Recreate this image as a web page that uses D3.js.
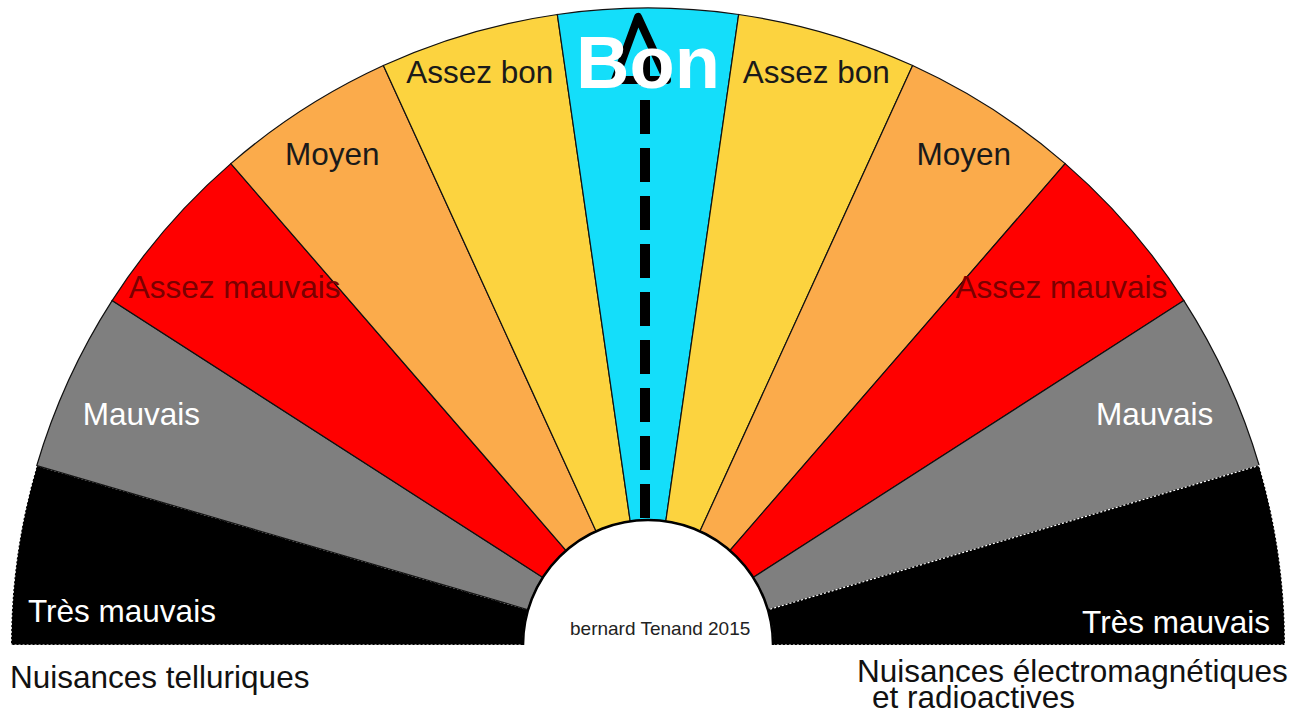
<!DOCTYPE html>
<html>
<head>
<meta charset="utf-8">
<script src="https://cdn.jsdelivr.net/npm/d3@7"></script>
<style>
  body { margin: 0; background: #fff; }
  text { font-family: "Liberation Sans", Arial, sans-serif; }
</style>
</head>
<body>
<div id="chart"></div>
<script>
const width = 1297
const height = 720

// the 11 levels of the gauge, left to right
const levels = ["Très mauvais", "Mauvais", "Assez mauvais", "Moyen", "Assez bon", "Bon",
                "Assez bon", "Moyen", "Assez mauvais", "Mauvais", "Très mauvais"]
const weights = [1, 1, 1, 1, 1, 1, 1, 1, 1, 1, 1]
const fills = ["#000000", "#7f7f7f", "#ff0000", "#fbab4b", "#fcd33f", "#14defa",
               "#fcd33f", "#fbab4b", "#ff0000", "#7f7f7f", "#000000"]
const labelColors = ["#ffffff", "#ffffff", "#7a0000", "#1a1a1a", "#1a1a1a", "#ffffff",
                     "#1a1a1a", "#1a1a1a", "#7a0000", "#ffffff", "#ffffff"]
const leftTitle = ["Nuisances telluriques"]
const rightTitle = ["Nuisances électromagnétiques", "et radioactives"]
const credit = "bernard Tenand 2015"

const cx = 648, cy = 645
const outerR = 637, innerR = 125
// label distance from centre, by rank away from "Bon"
const labelR = [583, 597, 584, 547, 557]

const svg = d3.select("#chart").append("svg").attr("width", width).attr("height", height)
const g = svg.append("g").attr("transform", `translate(${cx},${cy})`)

const pie = d3.pie().sort(null).startAngle(-Math.PI / 2).endAngle(Math.PI / 2)
const arc = d3.arc().innerRadius(innerR).outerRadius(outerR)
const slices = pie(weights)

g.selectAll("path.seg").data(slices)
    .join("path")
        .attr("class", "seg")
        .attr("d", arc)
        .attr("fill", (d, i) => fills[i])
        .attr("stroke", (d, i) => fills[i] == "#000000" ? "#ffffff" : "#111")
        .attr("stroke-dasharray", (d, i) => fills[i] == "#000000" ? "2,2" : null)
        .attr("stroke-width", 1.2)

// inner white hub outline
g.append("path")
    .attr("d", d3.arc().innerRadius(innerR).outerRadius(innerR).startAngle(-Math.PI / 2).endAngle(Math.PI / 2)())
    .attr("fill", "none")
    .attr("stroke", "#000")
    .attr("stroke-width", 2.5)

// segment labels
g.selectAll("text.lvl").data(slices)
    .join("text")
        .attr("class", "lvl")
        .text((d, i) => levels[i] == "Bon" ? "" : levels[i])
        .attr("fill", (d, i) => labelColors[i])
        .attr("font-size", 31.5)
        .attr("text-anchor", (d, i) => i == 0 ? "start" : i == levels.length - 1 ? "end" : "middle")
        .attr("x", (d, i) => {
            if (i == 0) return -outerR + 17
            if (i == levels.length - 1) return outerR - 15
            const a = (d.startAngle + d.endAngle) / 2
            return labelR[Math.abs(i - 5)] * Math.sin(a)
        })
        .attr("y", (d, i) => {
            if (i == 0) return -23
            if (i == levels.length - 1) return -12
            const a = (d.startAngle + d.endAngle) / 2
            return -labelR[Math.abs(i - 5)] * Math.cos(a)
        })
        .attr("dy", (d, i) => (i == 0 || i == levels.length - 1) ? 0 : "0.35em")

// dashed arrow pointing to "Bon"
const arrowX = -3
g.append("line")
    .attr("x1", arrowX).attr("y1", -innerR - 2)
    .attr("x2", arrowX).attr("y2", -outerR + 40)
    .attr("stroke", "#000")
    .attr("stroke-width", 10)
    .attr("stroke-dasharray", "34,14")
g.append("path")
    .attr("d", `M${arrowX - 7},${-outerR + 9} L${arrowX - 30},${-outerR + 72} L${arrowX + 22},${-outerR + 72} Z`)
    .attr("fill", "none")
    .attr("stroke", "#000")
    .attr("stroke-width", 8)
    .attr("stroke-linejoin", "round")

// "Bon" drawn on top of the arrow
const bon = slices[5]
g.append("text")
    .text(levels[5])
    .attr("fill", "#fff")
    .attr("font-size", 74)
    .attr("font-weight", "bold")
    .attr("text-anchor", "middle")
    .attr("x", 0)
    .attr("y", -labelR[0] * Math.cos((bon.startAngle + bon.endAngle) / 2))
    .attr("dy", "0.35em")

g.append("text")
    .text(credit)
    .attr("font-size", 19)
    .attr("fill", "#222")
    .attr("x", -78)
    .attr("y", -10)

// side titles
svg.append("text")
    .text(leftTitle[0])
    .attr("font-size", 31.5)
    .attr("fill", "#111")
    .attr("x", 10)
    .attr("y", 688)

svg.selectAll("text.right").data(rightTitle)
    .join("text")
        .attr("class", "right")
        .text(d => d)
        .attr("font-size", 31.5)
        .attr("fill", "#111")
        .attr("x", (d, i) => i == 0 ? 857 : 872)
        .attr("y", (d, i) => 682 + i * 26)
</script>
</body>
</html>
